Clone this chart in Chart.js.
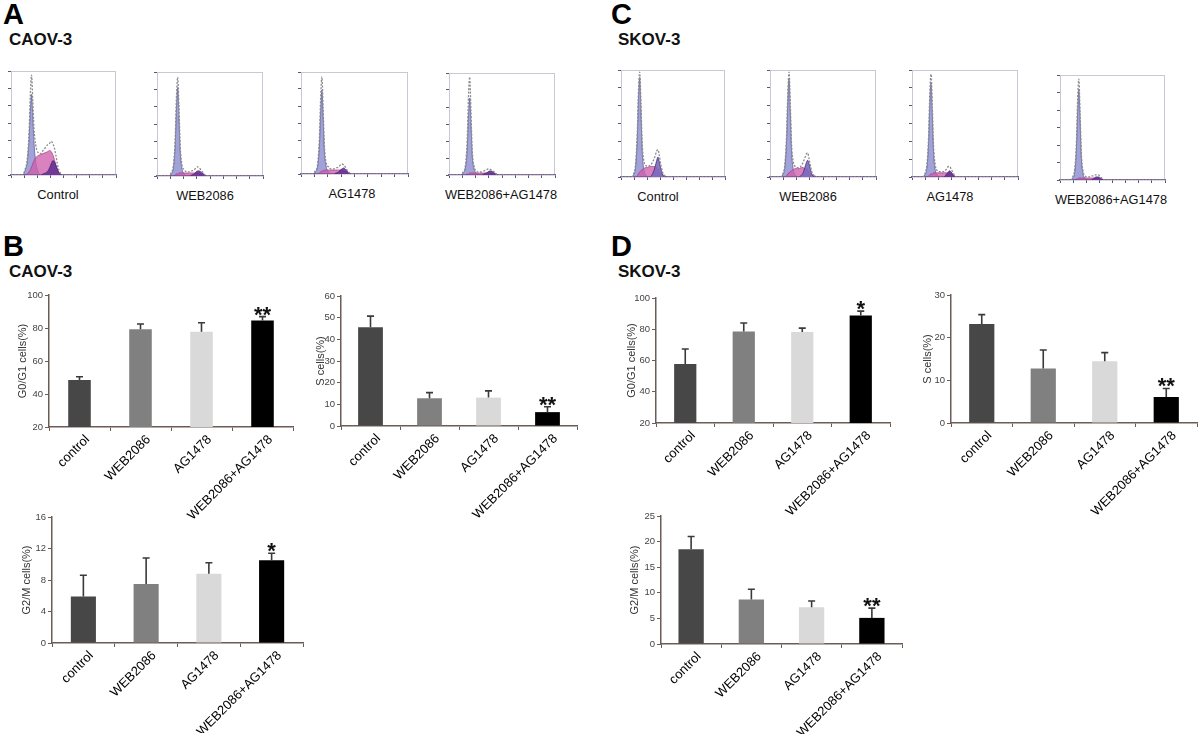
<!DOCTYPE html>
<html>
<head>
<meta charset="utf-8">
<script src="https://cdn.jsdelivr.net/npm/chart.js@4.4.0/dist/chart.umd.min.js"></script>
<style>
  body { margin: 0; background: #fff; width: 1200px; height: 736px; position: relative; overflow: hidden;
         font-family: "Liberation Sans", Arial, sans-serif; }
  canvas { position: absolute; }
  .txt { position: absolute; line-height: 1; color: #111; white-space: nowrap; }
  .letter { font-weight: bold; font-size: 29px; color: #000; }
  .cell { font-weight: bold; font-size: 17px; color: #111; }
  .hlab { font-size: 12.8px; transform: translateX(-50%); }
</style>
</head>
<body>
<div class="txt letter" style="left:3px;top:0px">A</div>
<div class="txt cell" style="left:9px;top:31px">CAOV-3</div>
<div class="txt letter" style="left:3px;top:232px">B</div>
<div class="txt cell" style="left:9px;top:263px">CAOV-3</div>
<div class="txt letter" style="left:611px;top:0px">C</div>
<div class="txt cell" style="left:618px;top:31px">SKOV-3</div>
<div class="txt letter" style="left:611px;top:232px">D</div>
<div class="txt cell" style="left:618px;top:263px">SKOV-3</div>

<script>
/* ---------- data ---------- */
const groups = ['control', 'WEB2086', 'AG1478', 'WEB2086+AG1478'];
const histoNames = ['Control', 'WEB2086', 'AG1478', 'WEB2086+AG1478'];

// bar panels (mean, upper SD)
const caovG1 = [48.5, 79.2, 77.8, 84.5];
const caovG1Err = [2.0, 3.2, 5.4, 2.4];
const caovS = [45.6, 12.8, 13.1, 6.4];
const caovSErr = [5.1, 2.6, 3.1, 2.5];
const caovG2M = [5.9, 7.5, 8.8, 10.5];
const caovG2MErr = [2.7, 3.3, 1.4, 0.9];
const skovG1 = [57.8, 78.6, 78.2, 88.8];
const skovG1Err = [9.6, 5.4, 2.5, 2.8];
const skovS = [23.2, 12.8, 14.5, 6.1];
const skovSErr = [2.2, 4.3, 2.0, 2.0];
const skovG2M = [18.5, 8.7, 7.2, 5.1];
const skovG2MErr = [2.5, 2.0, 1.2, 1.9];

const caovG1Sig = ['', '', '', '**'];
const caovSSig = ['', '', '', '**'];
const caovG2MSig = ['', '', '', '*'];
const skovG1Sig = ['', '', '', '*'];
const skovSSig = ['', '', '', '**'];
const skovG2MSig = ['', '', '', '**'];

// DNA content histograms (channel, relative counts)
const chCaov = [0, 28, 34, 40, 44, 47, 50, 53, 56, 60, 66, 72, 78, 84, 90, 94, 98, 102, 106, 110, 114, 120, 130, 256];
const chSkov = [0, 25, 31, 36, 40, 43, 46, 49, 52, 56, 61, 66, 71, 76, 80, 84, 88, 91, 94, 98, 102, 108, 118, 256];

const caovCtrlG1 = [0, 0, 4, 14, 35, 62, 79, 58, 32, 14, 3, 0, 0, 0, 0, 0, 0, 0, 0, 0, 0, 0, 0, 0];
const caovCtrlS  = [0, 0, 0, 1, 3, 5, 8, 11, 14, 17, 19, 20, 21, 22, 23, 24, 23, 20, 15, 9, 4, 1, 0, 0];
const caovCtrlG2 = [0, 0, 0, 0, 0, 0, 0, 0, 0, 0, 0, 0, 1, 2, 4, 7, 11, 14, 13, 9, 5, 1, 0, 0];
const caovCtrlT  = [0, 0, 5, 17, 42, 78, 98, 74, 46, 30, 22, 21, 24, 27, 30, 31, 33, 31, 26, 18, 9, 2, 0, 0];

const caovWebG1 = [0, 0, 2, 9, 30, 66, 87, 58, 24, 8, 2, 0, 0, 0, 0, 0, 0, 0, 0, 0, 0, 0, 0, 0];
const caovWebS  = [0, 0, 0, 0, 1, 2, 2, 3, 3, 3, 3, 3, 3, 3, 3, 3, 3, 3, 2, 2, 1, 0, 0, 0];
const caovWebG2 = [0, 0, 0, 0, 0, 0, 0, 0, 0, 0, 0, 0, 0, 1, 2, 4, 5, 5, 4, 3, 1, 0, 0, 0];
const caovWebT  = [0, 0, 3, 12, 38, 78, 97, 68, 30, 12, 6, 4, 4, 5, 6, 8, 9, 8, 6, 4, 2, 0, 0, 0];

const caovAgG1 = [0, 0, 2, 8, 28, 62, 84, 56, 22, 8, 2, 0, 0, 0, 0, 0, 0, 0, 0, 0, 0, 0, 0, 0];
const caovAgS  = [0, 0, 0, 0, 1, 2, 3, 3, 4, 4, 4, 4, 4, 4, 4, 4, 4, 3, 3, 2, 1, 0, 0, 0];
const caovAgG2 = [0, 0, 0, 0, 0, 0, 0, 0, 0, 0, 0, 0, 0, 1, 2, 4, 5, 6, 5, 3, 1, 0, 0, 0];
const caovAgT  = [0, 0, 3, 11, 36, 76, 97, 66, 28, 12, 7, 5, 5, 6, 7, 9, 10, 9, 7, 4, 2, 0, 0, 0];

const caovMixG1 = [0, 0, 2, 8, 26, 58, 77, 52, 20, 7, 2, 0, 0, 0, 0, 0, 0, 0, 0, 0, 0, 0, 0, 0];
const caovMixS  = [0, 0, 0, 0, 1, 1, 2, 2, 2, 2, 2, 2, 2, 2, 2, 2, 2, 2, 2, 1, 1, 0, 0, 0];
const caovMixG2 = [0, 0, 0, 0, 0, 0, 0, 0, 0, 0, 0, 0, 0, 1, 2, 3, 4, 4, 3, 2, 1, 0, 0, 0];
const caovMixT  = [0, 0, 3, 11, 36, 78, 98, 64, 26, 10, 4, 3, 3, 4, 5, 6, 6, 5, 4, 3, 1, 0, 0, 0];

const skovCtrlG1 = [0, 0, 2, 10, 36, 74, 95, 64, 26, 8, 2, 0, 0, 0, 0, 0, 0, 0, 0, 0, 0, 0, 0, 0];
const skovCtrlS  = [0, 0, 0, 0, 1, 3, 5, 6, 7, 8, 9, 9, 10, 10, 10, 10, 9, 8, 6, 4, 2, 1, 0, 0];
const skovCtrlG2 = [0, 0, 0, 0, 0, 0, 0, 0, 0, 0, 0, 0, 0, 2, 5, 10, 16, 19, 15, 8, 3, 0, 0, 0];
const skovCtrlT  = [0, 0, 3, 13, 42, 82, 100, 72, 34, 16, 11, 10, 11, 13, 16, 20, 25, 26, 21, 12, 5, 1, 0, 0];

const skovWebG1 = [0, 0, 2, 10, 34, 72, 94, 62, 25, 8, 2, 0, 0, 0, 0, 0, 0, 0, 0, 0, 0, 0, 0, 0];
const skovWebS  = [0, 0, 0, 0, 1, 3, 4, 5, 6, 7, 8, 8, 8, 9, 9, 8, 8, 7, 5, 3, 2, 1, 0, 0];
const skovWebG2 = [0, 0, 0, 0, 0, 0, 0, 0, 0, 0, 0, 0, 0, 2, 4, 9, 14, 16, 13, 7, 2, 0, 0, 0];
const skovWebT  = [0, 0, 3, 13, 40, 80, 100, 70, 32, 15, 10, 9, 9, 11, 14, 18, 22, 23, 18, 10, 4, 1, 0, 0];

const skovAgG1 = [0, 0, 2, 9, 32, 70, 90, 60, 24, 7, 2, 0, 0, 0, 0, 0, 0, 0, 0, 0, 0, 0, 0, 0];
const skovAgS  = [0, 0, 0, 0, 1, 2, 3, 3, 4, 4, 4, 4, 4, 4, 4, 4, 4, 4, 3, 2, 1, 0, 0, 0];
const skovAgG2 = [0, 0, 0, 0, 0, 0, 0, 0, 0, 0, 0, 0, 0, 0, 1, 3, 5, 6, 5, 3, 1, 0, 0, 0];
const skovAgT  = [0, 0, 3, 12, 38, 80, 98, 68, 30, 12, 6, 5, 5, 5, 6, 8, 10, 10, 8, 5, 2, 0, 0, 0];

const skovMixG1 = [0, 0, 2, 8, 30, 66, 88, 58, 22, 6, 2, 0, 0, 0, 0, 0, 0, 0, 0, 0, 0, 0, 0, 0];
const skovMixS  = [0, 0, 0, 0, 1, 1, 2, 2, 2, 2, 2, 2, 2, 2, 2, 2, 2, 2, 2, 1, 1, 0, 0, 0];
const skovMixG2 = [0, 0, 0, 0, 0, 0, 0, 0, 0, 0, 0, 0, 0, 0, 1, 2, 3, 3, 3, 2, 1, 0, 0, 0];
const skovMixT  = [0, 0, 3, 11, 36, 78, 98, 64, 26, 9, 4, 3, 3, 4, 4, 5, 5, 5, 5, 3, 2, 0, 0, 0];

/* ---------- helpers ---------- */
const FONT = '"Liberation Sans", Arial, sans-serif';
Chart.defaults.font.family = FONT;
const AXIS = '#6b5d55';
const barFill = ['#474747', '#808080', '#d9d9d9', '#000000'];

function addCanvas(left, top, w, h) {
    const c = document.createElement('canvas');
    c.width = w; c.height = h;
    c.style.left = left + 'px'; c.style.top = top + 'px';
    c.style.width = w + 'px'; c.style.height = h + 'px';
    document.body.appendChild(c);
    return c;
}

// upper error bars + significance stars
const errBars = {
    id: 'errBars',
    afterDatasetsDraw(chart, args, o) {
        if (!o.err) return;
        const ctx = chart.ctx, y = chart.scales.y;
        const vals = chart.data.datasets[0].data;
        ctx.save();
        chart.getDatasetMeta(0).data.forEach((bar, i) => {
            const top = y.getPixelForValue(vals[i]);
            const cap = y.getPixelForValue(vals[i] + o.err[i]);
            ctx.strokeStyle = '#3a3a3a';
            ctx.lineWidth = 1.6;
            ctx.beginPath();
            ctx.moveTo(bar.x, top); ctx.lineTo(bar.x, cap);
            ctx.moveTo(bar.x - 3.5, cap); ctx.lineTo(bar.x + 3.5, cap);
            ctx.stroke();
            if (o.sig[i]) {
                ctx.font = 'bold 22px ' + FONT;
                ctx.textAlign = 'center';
                ctx.textBaseline = 'alphabetic';
                ctx.fillStyle = '#111';
                ctx.fillText(o.sig[i], bar.x, cap + 5);
            }
        });
        ctx.restore();
    }
};

function barPanel(pos, vals, errs, sig, yMin, yMax, step, title, barPct) {
    const c = addCanvas(pos.left, pos.top, pos.w, pos.h);
    new Chart(c, {
        type: 'bar',
        data: { labels: groups, datasets: [{ data: vals, backgroundColor: barFill, borderWidth: 0,
                barPercentage: barPct, categoryPercentage: 1 }] },
        options: {
            responsive: false, animation: false, devicePixelRatio: 1,
            layout: { padding: pos.pad },
            plugins: { legend: { display: false }, tooltip: { enabled: false }, errBars: { err: errs, sig: sig } },
            scales: {
                x: {
                    grid: { offset: true, drawOnChartArea: false, tickLength: 4, color: AXIS },
                    border: { color: AXIS, width: 1.5 },
                    ticks: { minRotation: 45, maxRotation: 45, autoSkip: false, color: '#000', font: { size: 13 },
                             padding: 1, labelOffset: 8 },
                    afterFit(s) { s.height = pos.xH; }
                },
                y: {
                    min: yMin, max: yMax,
                    grid: { drawOnChartArea: false, tickLength: 4, color: AXIS },
                    border: { color: AXIS, width: 1.5 },
                    ticks: { stepSize: step, color: '#444', font: { size: 9.5 }, padding: 2 },
                    title: { display: true, text: title, color: '#333', font: { size: 11 }, padding: 0 },
                    afterFit(s) { s.width = pos.yW; }
                }
            }
        },
        plugins: [errBars]
    });
}

// frame around each histogram
const frame = {
    id: 'frame',
    beforeDatasetsDraw(chart) {
        const a = chart.chartArea, ctx = chart.ctx;
        ctx.save();
        ctx.strokeStyle = '#c9c9d6';
        ctx.lineWidth = 1;
        ctx.strokeRect(a.left + 0.5, a.top + 0.5, a.right - a.left - 1, a.bottom - a.top - 1);
        ctx.restore();
    }
};

function histo(box, labX, name, ch, g1, s, g2, tot, g2Col) {
    const [L, T, R, B] = box;
    const c = addCanvas(L - 5, T - 2, R - L + 8, B - T + 8);
    const pts = arr => ch.map((x, i) => ({ x: x, y: arr[i] }));
    const area = (arr, bg, bd, ord) => ({ data: pts(arr), fill: 'origin', backgroundColor: bg, borderColor: bd,
        borderWidth: 0.8, pointRadius: 0, cubicInterpolationMode: 'monotone', order: ord });
    new Chart(c, {
        type: 'line',
        data: { datasets: [
            { data: pts(tot), fill: false, borderColor: '#8c8c8c', borderWidth: 1.3, borderDash: [2, 1.5],
              pointRadius: 0, cubicInterpolationMode: 'monotone', order: 0 },
            area(g2, g2Col, 'rgba(70,30,110,0.9)', 1),
            area(s, 'rgba(208,95,170,0.78)', 'rgba(160,50,130,0.8)', 2),
            area(g1, 'rgba(150,152,212,0.9)', 'rgba(85,85,150,0.9)', 3)
        ] },
        options: {
            responsive: false, animation: false, devicePixelRatio: 1,
            layout: { padding: { left: 1, top: 2, right: 3, bottom: 2 } },
            plugins: { legend: { display: false }, tooltip: { enabled: false } },
            scales: {
                x: { type: 'linear', min: 0, max: 256,
                     ticks: { stepSize: 32, display: false },
                     grid: { drawOnChartArea: false, tickLength: 3, color: '#55557a' },
                     border: { color: '#6a6a8a', width: 1.3 },
                     afterFit(sc) { sc.height = 4; } },
                y: { min: 0, max: 102,
                     ticks: { stepSize: 17, display: false },
                     grid: { drawOnChartArea: false, tickLength: 3, color: '#55557a' },
                     border: { color: '#b0b0c4', width: 1 },
                     afterFit(sc) { sc.width = 4; } }
            }
        },
        plugins: [frame]
    });
    const lab = document.createElement('div');
    lab.className = 'txt hlab';
    lab.textContent = name;
    lab.style.left = labX + 'px';
    lab.style.top = (B + 14) + 'px';
    document.body.appendChild(lab);
}

/* ---------- panels A & C ---------- */
const caovG2Col = 'rgba(95,45,145,0.85)';
const skovG2Col = 'rgba(120,105,190,0.9)';
histo([11, 71, 116, 175], 58, histoNames[0], chCaov, caovCtrlG1, caovCtrlS, caovCtrlG2, caovCtrlT, caovG2Col);
histo([157, 72, 263, 176], 205, histoNames[1], chCaov, caovWebG1, caovWebS, caovWebG2, caovWebT, caovG2Col);
histo([301, 72, 408, 174], 352, histoNames[2], chCaov, caovAgG1, caovAgS, caovAgG2, caovAgT, caovG2Col);
histo([449, 73, 555, 175], 501, histoNames[3], chCaov, caovMixG1, caovMixS, caovMixG2, caovMixT, caovG2Col);

histo([621, 70, 725, 177], 658, histoNames[0], chSkov, skovCtrlG1, skovCtrlS, skovCtrlG2, skovCtrlT, skovG2Col);
histo([770, 70, 876, 177], 808, histoNames[1], chSkov, skovWebG1, skovWebS, skovWebG2, skovWebT, skovG2Col);
histo([912, 70, 1018, 177], 950, histoNames[2], chSkov, skovAgG1, skovAgS, skovAgG2, skovAgT, caovG2Col);
histo([1060, 75, 1165, 180], 1111, histoNames[3], chSkov, skovMixG1, skovMixS, skovMixG2, skovMixT, caovG2Col);

/* ---------- panels B & D ---------- */
barPanel({ left: 0, top: 285, w: 300, h: 234, pad: { left: 16, top: 10, right: 7, bottom: 0 }, yW: 33, xH: 92 },
    caovG1, caovG1Err, caovG1Sig, 20, 100, 20, 'G0/G1 cells(%)', 0.37);
barPanel({ left: 314, top: 286, w: 266, h: 232, pad: { left: 0, top: 10, right: 3, bottom: 0 }, yW: 27, xH: 92 },
    caovS, caovSErr, caovSSig, 0, 60, 10, 'S cells(%)', 0.42);
barPanel({ left: 0, top: 507, w: 310, h: 226, pad: { left: 20, top: 10, right: 7, bottom: 0 }, yW: 32, xH: 90 },
    caovG2M, caovG2MErr, caovG2MSig, 0, 16, 4, 'G2/M cells(%)', 0.4);

barPanel({ left: 600, top: 288, w: 297, h: 227, pad: { left: 25, top: 10, right: 7, bottom: 0 }, yW: 31, xH: 92 },
    skovG1, skovG1Err, skovG1Sig, 20, 100, 20, 'G0/G1 cells(%)', 0.38);
barPanel({ left: 921, top: 285, w: 279, h: 230, pad: { left: 0, top: 10, right: 3, bottom: 0 }, yW: 30, xH: 92 },
    skovS, skovSErr, skovSSig, 0, 30, 10, 'S cells(%)', 0.41);
barPanel({ left: 600, top: 506, w: 310, h: 228, pad: { left: 28, top: 10, right: 8, bottom: 0 }, yW: 33, xH: 90 },
    skovG2M, skovG2MErr, skovG2MSig, 0, 25, 5, 'G2/M cells(%)', 0.42);
</script>
</body>
</html>
